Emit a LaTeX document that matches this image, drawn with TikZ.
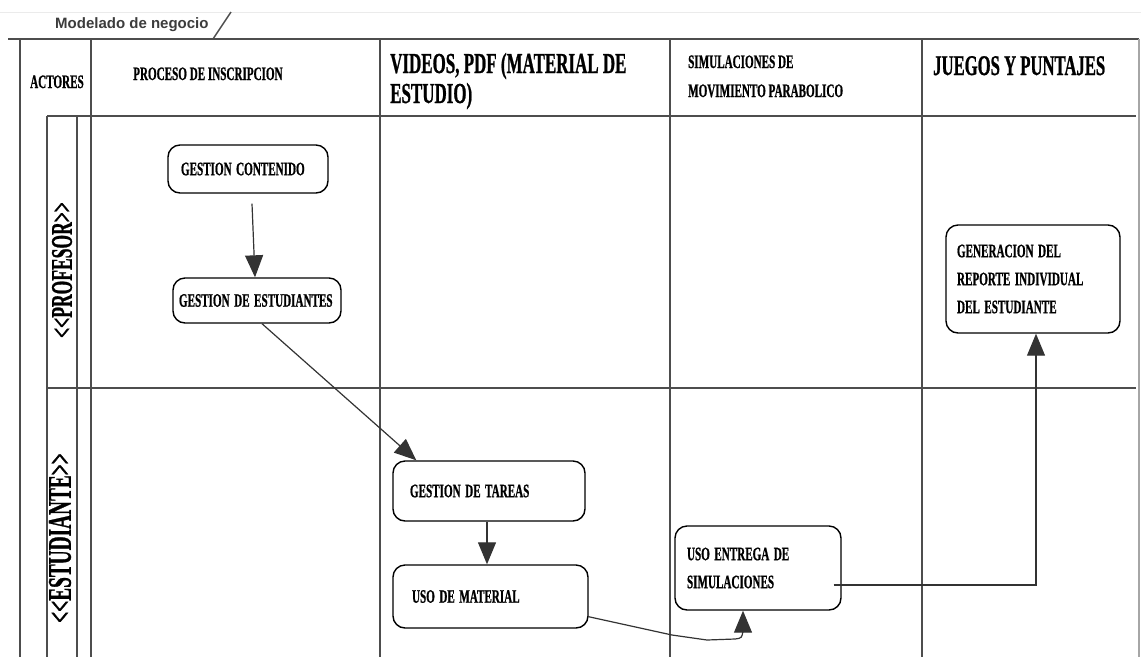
\documentclass[tikz,border=0pt]{standalone}
\usepackage{fontspec}
\usetikzlibrary{arrows.meta,calc}
% condensed heavy serif used for all diagram labels
\newfontfamily\condserif{Liberation Serif}[UprightFont={* Bold},FakeStretch=0.585,FakeBold=0.8]
\newfontfamily\tabsans{Liberation Sans}
\definecolor{gridline}{HTML}{4D4D4D}
\definecolor{flowline}{HTML}{333333}
\definecolor{tabtext}{HTML}{3C3C3C}
\begin{document}
\begin{tikzpicture}[x=1pt,y=-1pt,
  grid/.style={draw=gridline,line width=2pt},
  hdr/.style={anchor=base west,inner sep=0pt,align=left,
    font=\condserif\fontsize{19}{28}\selectfont},
  bighdr/.style={hdr,font=\condserif\fontsize{29}{30}\selectfont},
  lanelabel/.style={rotate=90,inner sep=0pt,font=\condserif\fontsize{30}{30}\selectfont},
  actbox/.style={draw=black,line width=1.4pt,rounded corners=12pt,fill=white,
    inner ysep=0pt,align=left,font=\condserif\fontsize{19}{28}\selectfont,
    execute at begin node={\hyphenpenalty=10000 \spaceskip=4.5pt plus 1pt\relax}},
  flow/.style={draw=flowline,line width=1.2pt,-{Triangle[length=22pt,width=18pt]}}]
\useasboundingbox (0,0) rectangle (1141,657);

% tab with the diagram title
\draw[draw=black!8,line width=1pt] (0,12) -- (1141,12);
\draw[grid] (8,39) -- (1139,39);
\draw[draw=gridline,line width=1.5pt] (213,39) -- (231,12);
\node[anchor=base west,inner sep=0pt,text=tabtext,font=\tabsans\bfseries\fontsize{15}{15}\selectfont]
  (title) at (55,28) {Modelado de negocio};

% swimlane grid
\draw[grid] (20,39) -- (20,657);
\draw[grid] (91,39) -- (91,657);
\draw[grid] (380,39) -- (380,657);
\draw[grid] (670,39) -- (670,657);
\draw[grid] (922,39) -- (922,657);
\draw[draw=gray!70,line width=2pt] (1139,39) -- (1139,657);
\draw[grid] (47,116) -- (47,657);
\draw[grid] (77,116) -- (77,657);
\draw[grid] (47,116) -- (1136,116);
\draw[grid] (47,388) -- (1136,388);

% column headers (base anchor of a multi-line node is its last baseline)
\node[hdr] (hactores) at (30,88) {ACTORES};
\node[hdr] (hinscr) at (133,80) {PROCESO DE INSCRIPCION};
\node[bighdr] (hvideos) at (390,103) {VIDEOS, PDF (MATERIAL DE\\ESTUDIO)};
\node[hdr,font=\condserif\fontsize{19}{29}\selectfont] (hsimul) at (688,97)
  {SIMULACIONES DE\\MOVIMIENTO PARABOLICO};
\node[bighdr,font=\condserif\fontsize{28.5}{30}\selectfont] (hjuegos) at (933,75) {JUEGOS Y PUNTAJES};

% lane labels
\node[lanelabel] (lprof) at (62,270) {<\kern0pt<PROFESOR>\kern0pt>};
\node[lanelabel,font=\condserif\fontsize{33}{33}\selectfont] (lest) at (60,538)
  {<\kern0pt<ESTUDIANTE>\kern0pt>};

% activities
\node[actbox,minimum width=160,minimum height=48,inner xsep=13,text width=134]
  (gc) at (248,169) {GESTION CONTENIDO};
\node[actbox,minimum width=168,minimum height=45,inner xsep=6,text width=156]
  (ge) at (257,300.5) {GESTION~DE~ESTUDIANTES};
\node[actbox,minimum width=174,minimum height=108,inner xsep=11,text width=152]
  (gr) at (1033,279) {GENERACION DEL\\REPORTE INDIVIDUAL\\DEL ESTUDIANTE};
\node[actbox,minimum width=192,minimum height=60,inner xsep=17,text width=158]
  (gt) at (489,491) {GESTION DE TAREAS};
\node[actbox,minimum width=195,minimum height=63,inner xsep=19,text width=157]
  (um) at (490.5,596.5) {USO DE MATERIAL};
\node[actbox,minimum width=166,minimum height=84,inner xsep=12,text width=142]
  (ue) at (758,568) {USO ENTREGA DE\\SIMULACIONES};

% control flow
\draw[flow] ([shift={(4,10)}]gc.south) -- ([xshift=-2pt]ge.north);
\draw[flow] ([xshift=5pt]ge.south) -- ([xshift=24pt]gt.north west);
\draw[flow] ([xshift=-2pt]gt.south) -- ([xshift=-3.5pt]um.north);
\draw[flow] ([shift={(-1,20)}]um.east) -- (672,635) -- (707,640) -- (735,639)
  .. controls (742,638) .. (743,630) -- ([xshift=-15pt]ue.south);
\draw[flow] ([shift={(-8,17)}]ue.east) -| ([xshift=3pt]gr.south);
\end{tikzpicture}
\end{document}
